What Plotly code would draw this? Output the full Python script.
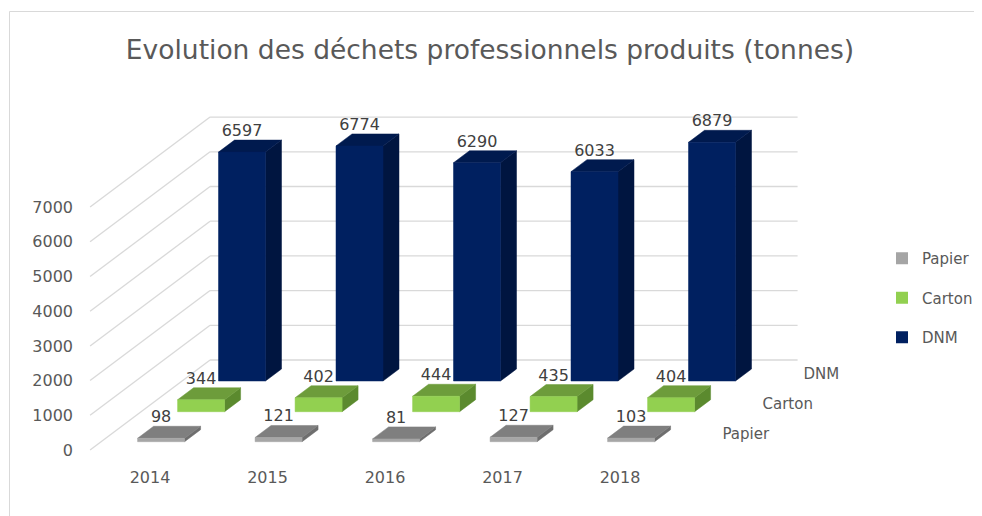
import plotly.graph_objects as go

# ---- data ----
years = ["2014", "2015", "2016", "2017", "2018"]
papier = [98, 121, 81, 127, 103]
carton = [344, 402, 444, 435, 404]
dnm = [6597, 6774, 6290, 6033, 6879]
series_names = ["Papier", "Carton", "DNM"]
y_ticks = [0, 1000, 2000, 3000, 4000, 5000, 6000, 7000]
title_text = "Evolution des déchets professionnels produits (tonnes)"

# ---- styling / projection ----
PX_PER_CAT = 117.5
PX_PER_UNIT = 0.0347
SX = 40 / PX_PER_CAT          # x-shift per depth row (category units)
SY = 30 / PX_PER_UNIT         # y-shift per depth row (value units)
BAR_W = 0.4
BAR_D = 0.4
ROW_Z = {"Papier": 0.277, "Carton": 1.277, "DNM": 2.3}
WALL_Z = 3.0
FLOOR_X0, FLOOR_X1 = -0.51, 4.49
FONT = "DejaVu Sans"
OFF = 8   # page body margin offset

colors = {
    "Papier": dict(front="#a6a6a6", top="#7f7f7f", side="#6e6e6e", legend="#a5a5a5"),
    "Carton": dict(front="#92d050", top="#6d9c3b", side="#5b8a2e", legend="#92d050"),
    "DNM": dict(front="#002060", top="#001a4e", side="#001540", legend="#002060"),
}
values = {"Papier": papier, "Carton": carton, "DNM": dnm}

fig = go.Figure()

# legend entries
for name in series_names:
    fig.add_trace(go.Scatter(x=[None], y=[None], mode="markers", name=name,
                             legendgroup=name,
                             marker=dict(symbol="square", size=12, color=colors[name]["legend"])))

# wall gridlines
gx, gy = [], []
for v in y_ticks:
    gx += [FLOOR_X0, FLOOR_X0 + WALL_Z * SX, None]
    gy += [v, v + WALL_Z * SY, None]
    gx += [FLOOR_X0 + WALL_Z * SX, FLOOR_X1 + WALL_Z * SX, None]
    gy += [v + WALL_Z * SY, v + WALL_Z * SY, None]
fig.add_trace(go.Scatter(x=gx, y=gy, mode="lines", line=dict(color="#d9d9d9", width=1.3),
                         showlegend=False, hoverinfo="skip"))

# bars, back row first
label_x, label_y, label_t = [], [], []
for name in ["DNM", "Carton", "Papier"]:
    z = ROW_Z[name]
    fx, fy, tx, ty, sx, sy = [], [], [], [], [], []
    for i, v in enumerate(values[name]):
        x0 = i - BAR_W / 2 + z * SX
        x1 = i + BAR_W / 2 + z * SX
        y0 = z * SY
        y1 = y0 + v
        ddx, ddy = BAR_D * SX, BAR_D * SY
        fx += [x0, x1, x1, x0, x0, None]
        fy += [y0, y0, y1, y1, y0, None]
        tx += [x0, x1, x1 + ddx, x0 + ddx, x0, None]
        ty += [y1, y1, y1 + ddy, y1 + ddy, y1, None]
        sx += [x1, x1 + ddx, x1 + ddx, x1, x1, None]
        sy += [y0, y0 + ddy, y1 + ddy, y1, y0, None]
        label_x.append(i + z * SX)
        label_y.append(y1 + ddy)
        label_t.append(str(v))
    for xs, ys, col in [(sx, sy, colors[name]["side"]), (tx, ty, colors[name]["top"]),
                        (fx, fy, colors[name]["front"])]:
        fig.add_trace(go.Scatter(x=xs, y=ys, mode="lines", fill="toself", fillcolor=col,
                                 line=dict(width=0.5, color=col), showlegend=False,
                                 hoverinfo="skip"))

# value labels
fig.add_trace(go.Scatter(x=label_x, y=label_y, mode="text", text=label_t,
                         textposition="top center", cliponaxis=False,
                         textfont=dict(family=FONT, size=16, color="#404040"),
                         showlegend=False, hoverinfo="skip"))

# depth (series) labels
dz = [ROW_Z[n] + BAR_D / 2 for n in series_names]
fig.add_trace(go.Scatter(x=[FLOOR_X1 + z * SX + 0.22 for z in dz], y=[z * SY for z in dz],
                         mode="text", text=series_names, textposition="middle right",
                         cliponaxis=False,
                         textfont=dict(family=FONT, size=15, color="#595959"),
                         showlegend=False, hoverinfo="skip"))

W, H = 982, 516
# target plot area in screen pixels
L, R, T, B = 80, 890, 100, 466
fig.update_layout(
    width=W, height=H,
    margin=dict(l=L - OFF, r=W - R + OFF, t=T - OFF, b=H - B + OFF, autoexpand=False),
    paper_bgcolor="white", plot_bgcolor="white",
    title=dict(text=title_text, x=(490 - OFF) / W, y=1 - (50 - OFF) / H,
               xref="container", yref="container",
               xanchor="center", yanchor="middle",
               font=dict(family=FONT, size=26.5, color="#595959")),
    xaxis=dict(range=[(L - 150) / PX_PER_CAT, (R - 150) / PX_PER_CAT],
               tickvals=list(range(len(years))), ticktext=years,
               showgrid=False, zeroline=False, showline=False, ticks="",
               tickfont=dict(family=FONT, size=16, color="#595959"), fixedrange=True),
    yaxis=dict(range=[(450 - B) / PX_PER_UNIT, (450 - T) / PX_PER_UNIT],
               tickvals=y_ticks, showgrid=False, zeroline=False, showline=False, ticks="",
               ticklabelstandoff=6,
               tickfont=dict(family=FONT, size=16, color="#595959"), fixedrange=True),
    legend=dict(x=(882 - L) / (R - L), y=(B - 242) / (B - T), xanchor="left", yanchor="top",
                tracegroupgap=17, font=dict(family=FONT, size=15, color="#595959"),
                bgcolor="rgba(0,0,0,0)"),
    shapes=[dict(type="rect", xref="paper", yref="paper",
                 x0=(9.5 - L) / (R - L), x1=1.3, y0=-0.3, y1=(B - 11.5) / (B - T),
                 line=dict(color="#d9d9d9", width=1), layer="below")],
    showlegend=True,
)
fig.write_html("out.html")
